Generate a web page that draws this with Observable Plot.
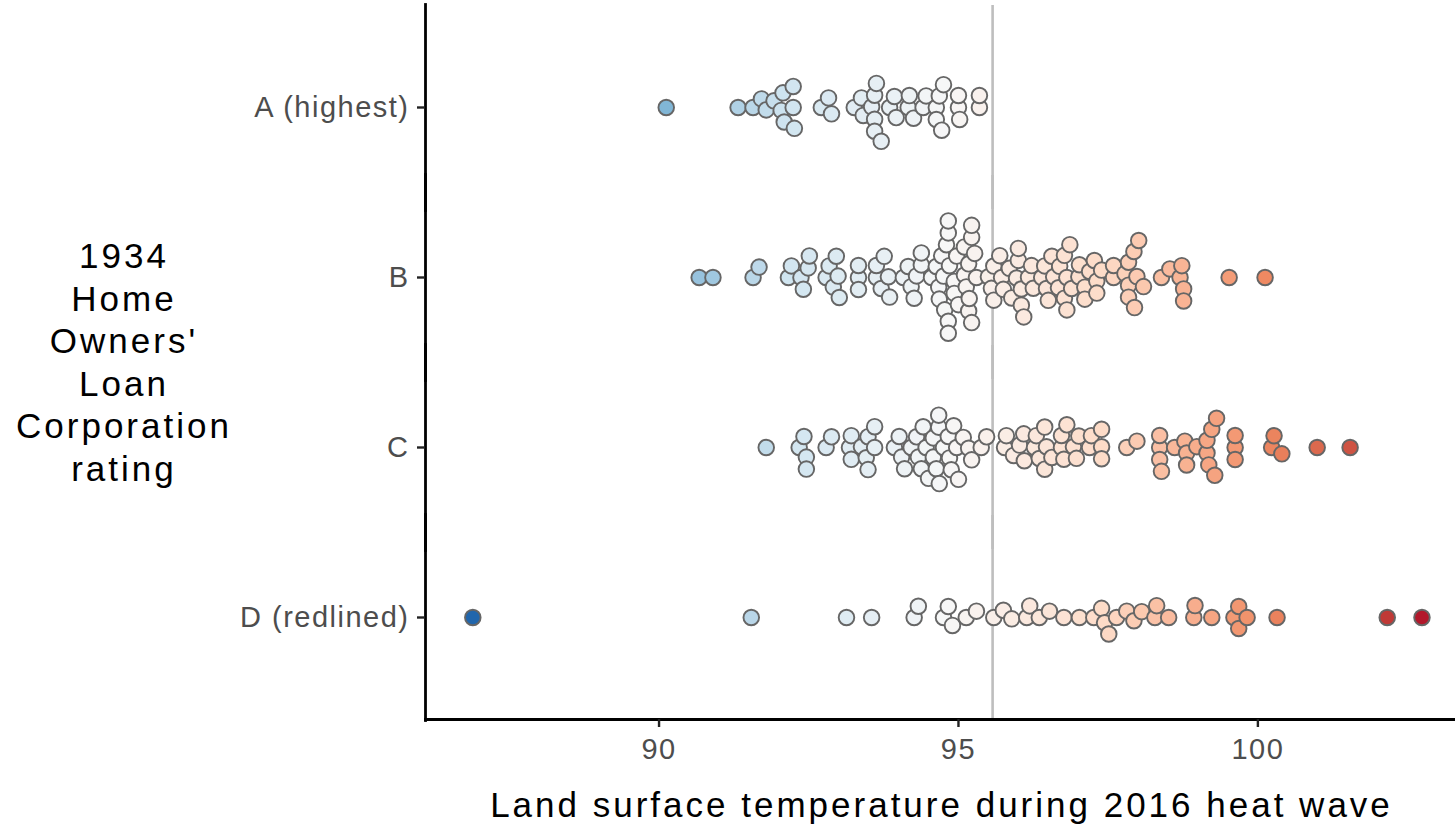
<!DOCTYPE html>
<html><head><meta charset="utf-8">
<script src="https://cdn.jsdelivr.net/npm/d3@7"></script>
<script src="https://cdn.jsdelivr.net/npm/@observablehq/plot@0.6"></script>
<style>
body{margin:0;background:#fff;}
#wrap{position:relative;width:1455px;height:830px;overflow:hidden;font-family:"Liberation Sans",Arial,Helvetica,sans-serif;background:#fff;}
#chart{position:absolute;left:0;top:0;}
#chart svg text{letter-spacing:1.5px;}
#ytitle{position:absolute;left:0;top:235px;width:248px;text-align:center;font-size:35px;line-height:42.6px;letter-spacing:3px;color:#000;}
#xtitle{position:absolute;left:425px;width:1033px;top:787px;text-align:center;font-size:35px;line-height:35px;letter-spacing:3px;color:#000;white-space:nowrap;}
#mark{position:absolute;left:0;top:0;}
</style></head>
<body>
<div id="wrap">
<svg id="mark" width="140" height="830"><path d="M -5 395 L 98 556 Q 112 576 98 596 L -5 722" fill="none" stroke="#f1f1f1" stroke-width="10" stroke-linecap="round"/></svg>
<div id="chart"></div>
<div id="ytitle">1934<br>Home<br>Owners'<br>Loan<br>Corporation<br>rating</div>
<div id="xtitle">Land surface temperature during 2016 heat wave</div>
</div>
<script>
const grades = ["A (highest)", "B", "C", "D (redlined)"];

const tempsA = [90.12, 91.32, 91.57, 91.71, 91.79, 91.92, 92.04, 92.07, 92.09, 92.24, 92.24, 92.26,
  92.71, 92.83, 92.88, 93.26, 93.38, 93.41, 93.55, 93.60, 93.60, 93.60, 93.63, 93.71, 93.85, 93.93,
  93.96, 94.16, 94.18, 94.25, 94.41, 94.46, 94.63, 94.63, 94.68, 94.72, 94.75, 95.00, 95.00, 95.02,
  95.35, 95.35];

const tempsB = [90.67, 90.90, 91.57, 91.67, 92.16, 92.21, 92.37, 92.41, 92.49, 92.51, 92.79, 92.84,
  92.91, 92.96, 92.99, 93.01, 93.33, 93.33, 93.33, 93.63, 93.63, 93.71, 93.76, 93.83, 93.85, 94.08,
  94.16, 94.21, 94.26, 94.30, 94.38, 94.38, 94.55, 94.63, 94.67, 94.68, 94.72, 94.75, 94.77, 94.80,
  94.83, 94.83, 94.83, 94.83, 94.85, 94.93, 94.93, 94.97, 95.00, 95.10, 95.10, 95.13, 95.17, 95.17,
  95.18, 95.22, 95.22, 95.22, 95.27, 95.30, 95.50, 95.55, 95.59, 95.59, 95.69, 95.72, 95.75, 95.85,
  95.89, 95.97, 96.00, 96.00, 96.05, 96.05, 96.09, 96.17, 96.22, 96.25, 96.39, 96.44, 96.47, 96.50,
  96.56, 96.59, 96.67, 96.69, 96.77, 96.77, 96.81, 96.81, 96.86, 96.89, 97.01, 97.02, 97.11, 97.11,
  97.19, 97.27, 97.31, 97.31, 97.39, 97.59, 97.59, 97.78, 97.84, 97.84, 97.84, 97.93, 97.94, 97.98,
  98.01, 98.09, 98.39, 98.53, 98.70, 98.73, 98.76, 98.76, 99.52, 100.12];

const tempsC = [91.79, 92.34, 92.42, 92.46, 92.46, 92.79, 92.88, 93.18, 93.21, 93.21, 93.38, 93.46,
  93.49, 93.49, 93.60, 93.60, 93.93, 94.01, 94.05, 94.10, 94.21, 94.30, 94.33, 94.38, 94.41, 94.46,
  94.50, 94.58, 94.58, 94.63, 94.67, 94.67, 94.68, 94.75, 94.83, 94.85, 94.88, 94.92, 94.97, 95.00,
  95.08, 95.17, 95.22, 95.38, 95.47, 95.77, 95.80, 95.92, 96.02, 96.09, 96.10, 96.27, 96.30, 96.35,
  96.44, 96.44, 96.47, 96.56, 96.72, 96.72, 96.76, 96.81, 96.92, 96.97, 97.01, 97.19, 97.22, 97.39,
  97.39, 97.39, 97.81, 97.98, 98.36, 98.36, 98.36, 98.39, 98.61, 98.78, 98.81, 98.81, 98.98, 99.15,
  99.15, 99.18, 99.23, 99.28, 99.31, 99.62, 99.62, 99.62, 100.23, 100.27, 100.40, 100.99, 101.54];

const tempsD = [86.89, 91.54, 93.13, 93.55, 94.26, 94.33, 94.75, 94.83, 94.90, 95.13, 95.30, 95.59,
  95.75, 95.89, 96.14, 96.19, 96.35, 96.52, 96.76, 97.02, 97.26, 97.39, 97.44, 97.51, 97.64, 97.81,
  97.93, 98.06, 98.28, 98.31, 98.51, 98.93, 98.95, 99.23, 99.60, 99.68, 99.68, 99.82, 100.32, 102.16,
  102.74];

const xTicks = [90, 95, 100];
const xDomain = [86.1, 103.3];
const referenceTemp = 95.57;
const paletteRdBu7 = ["#2166AC", "#67A9CF", "#D1E5F0", "#F7F7F7", "#FDDBC7", "#EF8A62", "#B2182B"];

const series = [[grades[0], tempsA], [grades[1], tempsB], [grades[2], tempsC], [grades[3], tempsD]];
const data = series.flatMap(([g, arr]) => d3.sort(arr).map(t => ({grade: g, temp: t})));

const [lo, hi] = d3.extent(data, d => d.temp);
const colorStops = paletteRdBu7.map((_, i) => lo + (hi - lo) * i / (paletteRdBu7.length - 1));

const outerPad = 17;

const chart = Plot.plot({
  width: 1455,
  height: 830,
  marginLeft: 425,
  marginRight: 0,
  marginTop: 5,
  marginBottom: 111,
  style: {fontFamily: "'Liberation Sans', Arial, Helvetica, sans-serif", background: "#fff", overflow: "visible"},
  x: {domain: xDomain},
  fy: {domain: grades, paddingInner: 0, paddingOuter: 0.1},
  color: {type: "linear", domain: colorStops, range: paletteRdBu7, interpolate: "lab"},
  marks: [
    Plot.ruleX([referenceTemp], {stroke: "#bebebe", strokeWidth: 2.6, insetTop: -outerPad, insetBottom: -outerPad}),
    Plot.dot(data, Plot.dodgeY({anchor: "middle", padding: -3.6}, {
      x: "temp", fy: "grade", r: 7.8, fill: "temp", stroke: "#666666", strokeWidth: 1.9
    })),
    Plot.frame({anchor: "left", insetTop: -outerPad - 1, insetBottom: -outerPad - 1, stroke: "#000", strokeWidth: 2.8, strokeLinecap: "square"}),
    Plot.frame({anchor: "bottom", facetAnchor: "bottom", insetBottom: -outerPad, stroke: "#000", strokeWidth: 2.8, strokeLinecap: "square"}),
    Plot.axisFy({anchor: "left", tickSize: 8, tickPadding: 8, fontSize: 29, stroke: "#222", strokeWidth: 2.4, fill: "#4d4d4d", label: null}),
    Plot.axisX({ticks: xTicks, tickSize: 8, tickPadding: 11, fontSize: 29, dy: outerPad, stroke: "#222", strokeWidth: 2.4, fill: "#4d4d4d", label: null})
  ]
});
document.getElementById("chart").appendChild(chart);
</script>
</body></html>
